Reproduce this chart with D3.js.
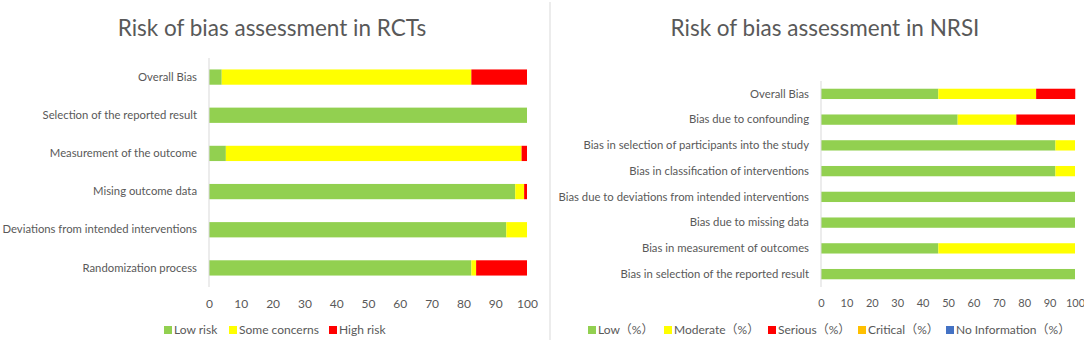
<!DOCTYPE html>
<html>
<head>
<meta charset="utf-8">
<script src="https://cdn.jsdelivr.net/npm/d3@7"></script>
<style>
  body { margin: 0; background: #fff; }
  svg { display: block; font-family: Lato, "Noto Sans CJK SC", sans-serif; }
  .tick text { fill: #595959; font-size: 12px; }
  .cat .tick text { font-size: 11.3px; }
  .title { fill: #595959; font-size: 22.5px; }
  .legend text { fill: #595959; font-size: 12px; }
</style>
</head>
<body>
<svg id="chart" width="1084" height="345"></svg>
<script>
// RCTs (RoB 2), percent of studies
const rctCategories = ["Overall Bias", "Selection of the reported result", "Measurement of the outcome",
  "Mising outcome data", "Deviations from intended interventions", "Randomization process"];
const rctLow  = [4, 100, 5.3, 96.3, 93.5, 82.5];
const rctSome = [78.5, 0, 93, 2.8, 6.5, 1.5];
const rctHigh = [17.5, 0, 1.7, 0.9, 0, 16];
const rctKeys = ["Low risk", "Some concerns", "High risk"];

// NRSI (ROBINS-I), percent of studies
const nrsiCategories = ["Overall Bias", "Bias due to confounding", "Bias in selection of participants into the study",
  "Bias in classification of interventions", "Bias due to deviations from intended interventions",
  "Bias due to missing data", "Bias in measurement of outcomes", "Bias in selection of the reported result"];
const nrsiLow      = [46.2, 53.8, 92.3, 92.3, 100, 100, 46.2, 100];
const nrsiModerate = [38.5, 23.1, 7.7, 7.7, 0, 0, 53.8, 0];
const nrsiSerious  = [15.4, 23.1, 0, 0, 0, 0, 0, 0];
const nrsiCritical = [0, 0, 0, 0, 0, 0, 0, 0];
const nrsiNoInfo   = [0, 0, 0, 0, 0, 0, 0, 0];
const nrsiKeys = ["Low（%）", "Moderate（%）", "Serious（%）", "Critical（%）", "No Information（%）"];

const xTicks = [0, 10, 20, 30, 40, 50, 60, 70, 80, 90, 100];
const palette = ["#92d050", "#ffff00", "#ff0000", "#ffc000", "#4472c4"];

const svg = d3.select("#chart");

// divider between the two panels
svg.append("line")
  .attr("x1", 550).attr("x2", 550).attr("y1", 2).attr("y2", 340)
  .attr("stroke", "#d9d9d9");

function panel(opt) {
  const rows = opt.categories.map((c, i) => {
    const r = {cat: c};
    opt.keys.forEach((k, j) => r[k] = opt.series[j][i]);
    return r;
  });
  const x = d3.scaleLinear().domain([0, 100]).range(opt.xRange);
  const y = d3.scaleBand().domain(opt.categories).range(opt.yRange).paddingInner(0.6).paddingOuter(0.3);
  const color = d3.scaleOrdinal(opt.keys, palette);
  const g = svg.append("g");

  g.append("text").attr("class", "title")
    .attr("x", opt.titleX).attr("y", 36)
    .attr("text-anchor", "middle")
    .text(opt.title);

  const stacked = d3.stack().keys(opt.keys)(rows);
  g.append("g").selectAll("g")
    .data(stacked)
    .join("g")
      .attr("fill", d => color(d.key))
    .selectAll("rect")
    .data(d => d.filter(p => p[1] - p[0] > 0))
    .join("rect")
      .attr("x", d => x(d[0]))
      .attr("y", d => y(d.data.cat))
      .attr("width", d => x(d[1]) - x(d[0]))
      .attr("height", y.bandwidth());

  // vertical category axis
  const ya = g.append("g")
    .attr("class", "cat")
    .attr("transform", `translate(${opt.xRange[0]},0)`)
    .call(d3.axisLeft(y).tickSize(0).tickPadding(12));
  ya.select(".domain").remove();
  g.append("line")
    .attr("x1", opt.xRange[0]).attr("x2", opt.xRange[0])
    .attr("y1", opt.yRange[0]).attr("y2", opt.yRange[1])
    .attr("stroke", "#d9d9d9");

  const xa = g.append("g")
    .attr("transform", `translate(0,${opt.yRange[1]})`)
    .call(d3.axisBottom(x).tickValues(xTicks).tickSize(0).tickPadding(12));
  xa.select(".domain").remove();
  xa.attr("font-family", null).attr("font-size", null);
  ya.attr("font-family", null).attr("font-size", null);
  if (opt.tickSize) xa.selectAll("text").style("font-size", opt.tickSize + "px");

  // legend
  const lg = g.append("g").attr("class", "legend");
  const items = lg.selectAll("g")
    .data(opt.keys)
    .join("g")
      .attr("transform", (d, i) => `translate(${opt.legendX[i]},330)`);
  items.append("rect")
    .attr("x", 0).attr("y", -4).attr("width", 8).attr("height", 8)
    .attr("fill", d => color(d));
  items.append("text")
    .attr("x", 10).attr("dy", "0.35em")
    .text(d => d);
}

panel({
  title: "Risk of bias assessment in RCTs",
  titleX: 272,
  categories: rctCategories,
  keys: rctKeys,
  series: [rctLow, rctSome, rctHigh],
  xRange: [209, 527],
  yRange: [58, 287],
  legendX: [164, 229, 329]
});

panel({
  title: "Risk of bias assessment in NRSI",
  titleX: 825,
  categories: nrsiCategories,
  keys: nrsiKeys,
  series: [nrsiLow, nrsiModerate, nrsiSerious, nrsiCritical, nrsiNoInfo],
  xRange: [821, 1075],
  yRange: [81, 287],
  tickSize: 11,
  legendX: [588, 664, 768, 858, 946]
});
</script>
</body>
</html>
